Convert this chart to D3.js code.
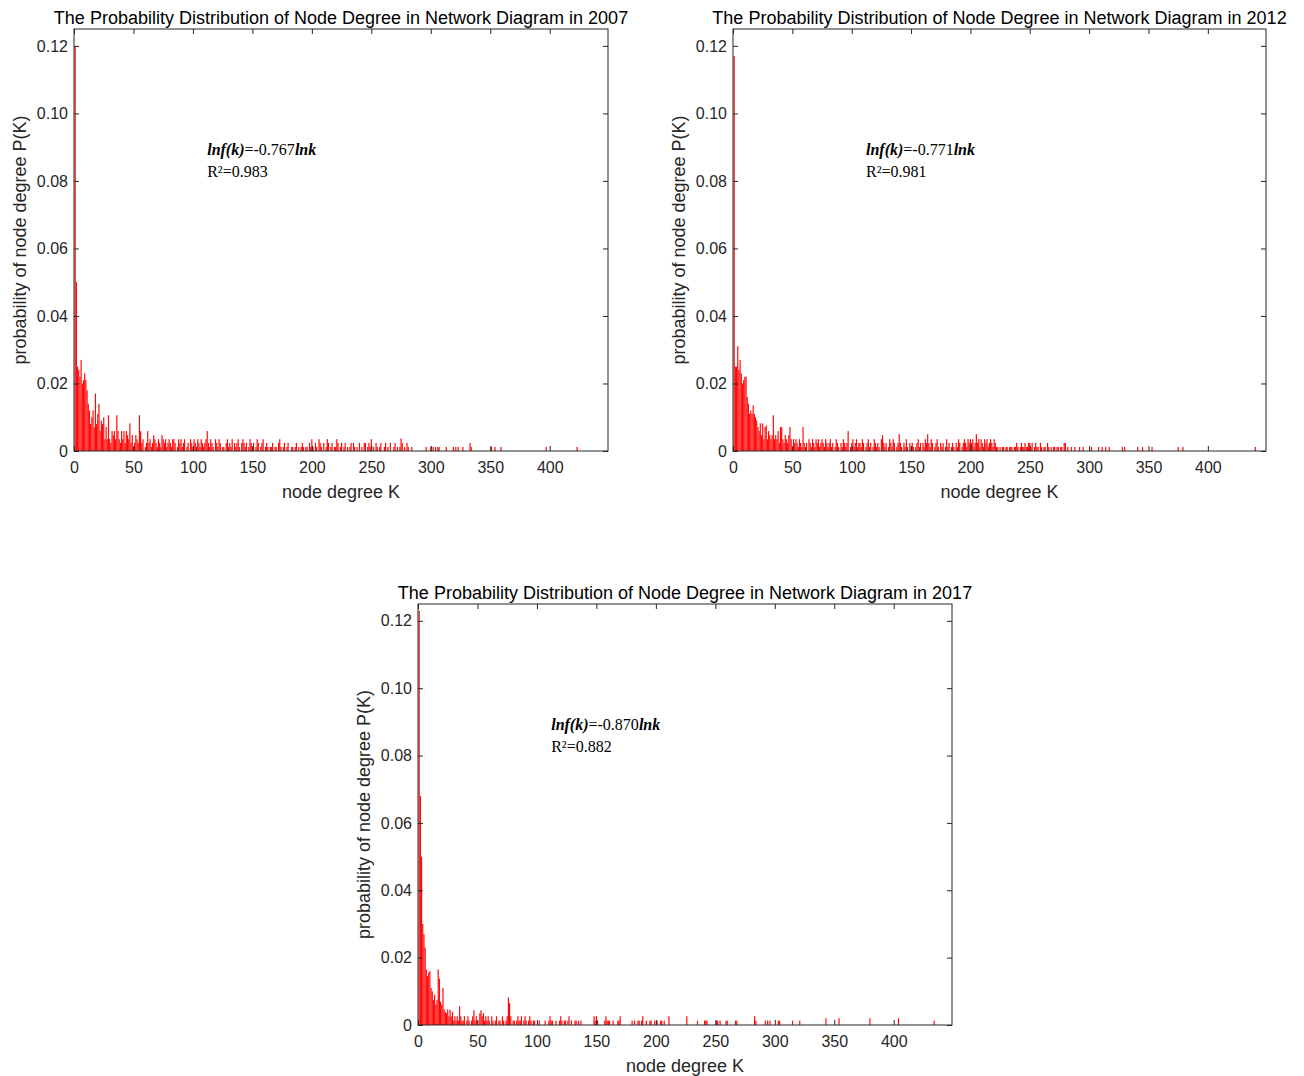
<!DOCTYPE html>
<html>
<head>
<meta charset="utf-8">
<script src="https://cdn.jsdelivr.net/npm/d3@7"></script>
<style>
  body { margin: 0; background: #fff; }
  svg { display: block; }
</style>
</head>
<body>
<div id="chart"></div>
<script>
// ---------- Data (probability P(K) for degree K = 1, 2, 3, ...) ----------
const years = ["2007", "2012", "2017"];
const slopes = ["-0.767", "-0.771", "-0.870"];
const rSquared = ["0.983", "0.981", "0.882"];

const p2007 = [
  .120,.050,.025,.024,.022,.027,.020,.021,.023,.021,.018,.014,.012,.008,.010,.012,.007,.017,.008,.011,.014,.006,.009,.008,.010,
  .0035,.0071,.0035,.0106,.0035,.0024,.0059,.0047,.0059,.0035,.0106,.0059,.0035,.0024,.0059,.0035,.0059,.0024,.0059,.0047,.0035,.0082,.0024,.0047,.0012,
  .0024,.0047,.0035,.0024,.0106,.0059,.0024,.0035,0,.0012,.0024,.0059,.0024,.0035,.0012,.0024,.0047,.0035,.0024,.0012,.0035,.0024,.0012,.0047,.0035,
  .0024,.0035,.0012,.0024,.0035,.0024,.0012,.0035,.0035,.0024,0,.0012,.0035,.0024,.0035,.0012,.0024,.0035,0,.0012,.0024,0,.0035,.0024,.0012,
  .0035,.0024,.0012,.0035,.0024,.0012,.0035,.0024,.0012,.0024,.0035,.0059,.0024,.0012,.0035,.0024,.0012,0,.0035,.0024,.0012,.0035,.0024,0,.0012,
  .0012,0,.0024,.0035,.0012,.0024,.0012,.0035,0,.0024,.0012,.0024,.0035,.0012,0,.0024,.0035,.0024,.0012,.0024,0,.0012,.0035,.0024,.0012,
  .0024,0,.0012,.0035,.0024,0,.0012,.0024,.0035,0,.0012,.0024,.0012,0,.0012,.0012,.0024,0,.0012,.0012,0,.0024,.0035,.0012,0,
  .0012,.0024,0,.0012,.0024,0,0,.0012,.0012,0,.0012,.0024,0,.0012,0,.0012,.0024,.0012,0,.0012,.0012,0,.0024,.0012,.0035,
  .0012,0,.0024,.0012,0,.0035,.0024,.0012,0,.0024,0,.0012,.0035,.0024,0,.0012,.0024,0,.0012,.0012,.0035,.0024,0,.0012,.0024,
  0,.0012,.0024,0,.0012,0,.0012,.0024,0,.0024,.0012,0,.0012,0,.0024,0,.0012,0,.0024,.0024,0,.0012,.0024,.0012,.0035,
  0,.0012,0,.0024,.0012,0,.0012,.0024,0,0,.0012,.0024,0,.0012,0,.0024,0,0,.0012,.0024,0,.0012,0,.0012,.0037,
  .0024,0,.0012,0,.0024,.0012,0,0,.0012,0,0,0,0,0,0,0,0,0,0,0,.0012,0,0,0,.0012,
  0,.0012,0,.0012,0,.0012,.0012,0,0,0,0,0,.0012,0,0,0,0,0,.0012,0,.0012,0,.0012,0,0,
  0,.0012,0,0,0,0,0,.0024,.0012,0,0,0,0,0,0,0,0,0,0,0,0,0,0,0,0,
  .0012,0,0,.0012,0,0,0,0,.0012,0,0,0,0,0,0,0,0,0,0,0,0,0,0,0,0,
  0,0,0,0,0,0,0,0,0,0,0,0,0,0,0,0,0,0,0,0,0,.0012,0,0,0,
  0,0,0,0,0,0,0,0,0,0,0,0,0,0,0,0,0,0,0,0,0,0,.0012
];

const p2012 = [
  .117,.025,.025,.031,.024,.027,.023,.020,.021,.022,.022,.016,.014,.011,.012,.011,.0135,.011,.010,.009,.0071,.0059,.0082,.0047,.0082,
  .0035,.0071,.0076,.0035,.0059,.0047,.0035,.0047,.0106,.0035,.0047,.0035,.0059,.0024,.0071,.0071,.0035,.0024,.0047,.0035,.0024,.0047,.0071,.0035,.0012,
  .0035,.0024,.0035,.0024,.0012,.0035,.0024,.0012,.0071,.0024,.0012,.0024,0,.0035,.0024,.0012,.0035,.0024,.0012,.0035,.0024,.0035,.0012,.0024,.0035,
  .0024,.0012,.0035,.0024,.0012,.0024,.0035,.0012,.0024,0,.0012,.0035,.0024,.0012,0,.0024,.0012,.0035,.0024,.0012,.0024,.0059,0,.0012,.0024,
  .0035,.0012,.0024,.0035,.0012,.0024,.0024,.0012,.0035,.0024,0,.0012,.0024,.0035,.0012,.0024,0,.0012,.0035,.0024,.0012,.0024,.0012,0,.0035,
  .0047,.0024,.0012,.0024,0,.0012,.0035,.0024,.0012,.0035,.0024,0,.0012,.0024,.0050,.0024,.0012,0,.0024,.0012,.0035,.0012,0,.0024,.0012,
  .0024,.0012,0,.0012,.0024,.0035,.0012,.0024,0,.0024,.0012,.0035,.0024,.0050,.0024,.0012,.0035,.0024,0,.0012,.0024,.0035,.0012,0,.0024,
  .0012,.0024,0,.0012,.0035,.0012,.0024,0,.0012,.0024,.0012,0,.0024,.0012,.0035,.0024,0,.0012,.0024,.0035,.0024,.0012,.0035,.0024,.0035,
  .0024,.0035,.0012,.0024,.0050,.0024,.0035,.0012,.0035,.0024,.0012,.0035,.0024,.0035,.0012,.0024,.0035,.0024,.0012,.0035,.0024,.0012,.0012,0,.0012,
  0,.0012,.0012,0,.0012,.0012,0,.0012,.0012,.0012,0,.0012,.0012,.0024,.0012,0,.0012,.0024,.0012,.0012,.0024,.0012,.0012,.0024,.0024,
  .0012,.0024,0,.0012,.0024,.0012,.0012,0,.0024,.0012,0,.0012,.0012,0,.0024,.0012,0,.0012,0,.0012,.0012,0,.0012,.0012,0,
  .0012,.0012,0,.0024,.0024,0,.0012,0,0,.0012,0,0,.0012,0,0,0,.0012,0,0,.0012,0,0,0,0,0,
  0,.0012,0,0,0,0,0,.0012,0,0,.0012,0,0,.0012,0,0,.0012,0,0,0,0,0,0,0,0,
  0,0,.0012,0,.0012,0,0,0,0,0,0,0,0,0,0,.0012,0,0,0,.0012,0,0,0,0,0,
  0,0,.0012,0,0,0,0,0,0,0,0,0,0,0,0,0,0,0,0,0,0,0,0,0,.0012,
  0,0,0,.0012,0,0,0,0,0,0,0,0,0,0,0,0,0,0,0,0,0,0,0,0,0,
  0,0,0,0,0,0,0,0,0,0,0,0,0,0,0,0,0,0,0,0,0,0,0,0,0,
  0,0,0,0,0,0,0,0,0,0,0,0,0,0,.0012
];

const p2017 = [
  .123,.068,.050,.030,.027,.023,.0165,.0145,.0155,.016,.011,.010,.0074,.009,.006,.0074,.0165,.0138,.0069,.006,.011,.0047,.0039,.0035,.0047,
  .0026,.0045,.0026,.0039,.0013,.0026,.0013,.0026,.0013,.0056,.0026,.0013,.0013,.0026,0,.0013,.0026,.0013,0,.0013,.0026,.0044,.0013,.0026,.0013,
  0,.0035,.0044,.0026,.0035,.0013,.0026,.0013,.0026,.0013,0,.0026,.0013,0,.0013,.0026,0,.0013,.0013,0,.0026,.0013,0,.0013,.0026,
  .0082,.0065,.0026,0,.0013,.0013,0,.0013,.0026,.0013,.0013,.0026,0,.0013,.0026,.0013,0,.0013,.0026,.0013,0,.0013,.0013,0,0,
  0,.0013,0,0,0,0,.0013,0,0,.0013,.0026,.0013,.0013,0,0,.0013,0,0,.0013,.0026,.0013,0,.0013,.0013,0,
  .0013,.0026,0,.0013,0,0,.0013,.0013,0,.0013,0,.0013,0,0,0,0,0,0,0,0,0,0,.0026,.0013,.0026,
  .0013,0,0,0,0,0,.0013,.0026,.0013,.0013,.0013,0,0,.0013,0,0,0,.0013,.0013,.0026,0,0,0,0,0,
  0,0,0,0,.0013,0,.0013,0,0,.0013,.0013,0,.0013,.0026,0,0,.0013,0,0,.0013,.0013,0,0,.0013,0,
  .0013,0,0,.0013,.0013,0,.0013,0,0,0,.0026,0,0,0,0,0,0,0,0,0,0,0,0,0,0,
  .0026,0,0,0,0,0,0,0,0,.0013,0,0,0,0,0,.0013,.0013,.0013,0,0,0,0,0,0,0,
  .0013,.0013,0,.0013,0,0,0,0,.0013,.0013,0,0,0,0,0,0,.0013,.0013,0,0,0,0,0,0,0,
  0,0,0,0,0,0,0,.0026,.0013,0,0,0,0,0,0,0,.0013,0,.0013,0,.0013,0,0,0,0,
  0,0,.0013,.0013,0,0,0,0,0,0,0,0,0,0,.0013,0,0,0,0,0,.0013,0,0,0,0,
  0,0,0,0,0,0,0,0,0,0,0,0,0,0,0,0,0,.002,0,0,0,0,0,0,0,
  0,0,0,.002,0,0,0,0,0,0,0,0,0,0,0,0,0,0,0,0,0,0,0,0,0,
  0,0,0,0,.002,0,0,0,0,0,0,0,0,0,0,0,0,0,0,0,0,0,0,0,0,
  0,0,0,.002,0,0,0,0,0,0,0,0,0,0,0,0,0,0,0,0,0,0,0,0,0,
  0,0,0,0,0,0,0,0,.0013
];

const xTicks = [0, 50, 100, 150, 200, 250, 300, 350, 400];
const yTicks = [0, 0.02, 0.04, 0.06, 0.08, 0.10, 0.12];
const series = [p2007, p2012, p2017];

// ---------- Layout ----------
const W = 1304, H = 1076;
const panels = [
  { left: 74, top: 29, w: 534, h: 422 },
  { left: 733, top: 29, w: 533, h: 422 },
  { left: 418, top: 604, w: 534, h: 421 }
];
const axisColor = "#262626";
const sans = "'Liberation Sans', Arial, Helvetica, sans-serif";
const serif = "'Liberation Serif', 'Times New Roman', serif";

const svg = d3.select("#chart").append("svg")
  .attr("width", W)
  .attr("height", H);

panels.forEach((p, i) => {
  const data = series[i].map((v, j) => ({ k: j + 1, v: v })).filter(d => d.v > 0);

  const x = d3.scaleLinear().domain([0, 449]).range([0, p.w]);
  const y = d3.scaleLinear().domain([0, 0.125]).range([p.h, 0]);

  const g = svg.append("g").attr("transform", `translate(${p.left},${p.top})`);

  // bars
  const bw = x(1) - x(0);
  g.append("g")
    .selectAll("rect")
    .data(data)
    .join("rect")
    .attr("x", d => x(d.k) - bw / 2)
    .attr("width", bw)
    .attr("y", d => y(d.v))
    .attr("height", d => y(0) - y(d.v))
    .attr("fill", "#ff0a0a");

  // axes (inward ticks on all four sides)
  const fmtY = d => d === 0 ? "0" : d3.format(".2f")(d);
  const bottom = g.append("g")
    .attr("transform", `translate(0,${p.h})`)
    .call(d3.axisBottom(x).tickValues(xTicks).tickSizeInner(-5).tickSizeOuter(0).tickPadding(11));
  const top = g.append("g")
    .call(d3.axisTop(x).tickValues(xTicks).tickSizeInner(-5).tickSizeOuter(0).tickFormat(""));
  const left = g.append("g")
    .call(d3.axisLeft(y).tickValues(yTicks).tickSizeInner(-5).tickSizeOuter(0).tickPadding(6).tickFormat(fmtY));
  const right = g.append("g")
    .attr("transform", `translate(${p.w},0)`)
    .call(d3.axisRight(y).tickValues(yTicks).tickSizeInner(-5).tickSizeOuter(0).tickFormat(""));

  [bottom, top, left, right].forEach(a => {
    a.select(".domain").remove();
    a.selectAll("line").attr("stroke", axisColor);
    a.selectAll("text")
      .attr("fill", axisColor)
      .style("font-family", sans)
      .style("font-size", "16px");
  });

  g.append("rect")
    .attr("width", p.w)
    .attr("height", p.h)
    .attr("fill", "none")
    .attr("stroke", axisColor)
    .attr("stroke-width", 1);

  // title
  g.append("text")
    .attr("x", p.w / 2)
    .attr("y", -5)
    .attr("text-anchor", "middle")
    .style("font-family", sans)
    .style("font-size", "18px")
    .attr("fill", "#000")
    .text(`The Probability Distribution of Node Degree in Network Diagram in ${years[i]}`);

  // axis labels
  g.append("text")
    .attr("x", p.w / 2)
    .attr("y", p.h + 47)
    .attr("text-anchor", "middle")
    .style("font-family", sans)
    .style("font-size", "18px")
    .attr("fill", axisColor)
    .text("node degree K");

  g.append("text")
    .attr("transform", `translate(-48,${p.h / 2}) rotate(-90)`)
    .attr("text-anchor", "middle")
    .style("font-family", sans)
    .style("font-size", "18px")
    .attr("fill", axisColor)
    .text("probability of node degree P(K)");

  // fit annotation
  const ann = g.append("text")
    .attr("x", x(112))
    .attr("y", y(0.0877))
    .style("font-family", serif)
    .style("font-size", "16px")
    .attr("fill", "#000");
  ann.append("tspan").style("font-weight", "bold").style("font-style", "italic").text("lnf(k)");
  ann.append("tspan").text("=" + slopes[i]);
  ann.append("tspan").style("font-weight", "bold").style("font-style", "italic").text("lnk");

  g.append("text")
    .attr("x", x(112))
    .attr("y", y(0.0812))
    .style("font-family", serif)
    .style("font-size", "16px")
    .attr("fill", "#000")
    .text("R\u00B2=" + rSquared[i]);
});
</script>
</body>
</html>
